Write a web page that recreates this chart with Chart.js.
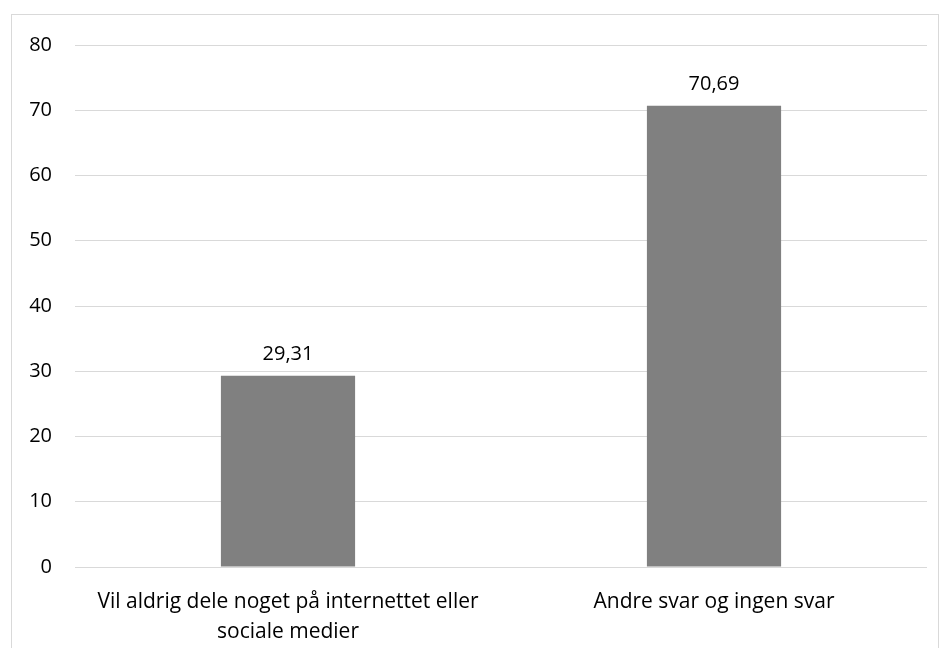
<!DOCTYPE html>
<html>
<head>
<meta charset="utf-8">
<script src="https://cdn.jsdelivr.net/npm/chart.js@4/dist/chart.umd.min.js"></script>
<style>
  body { margin: 0; background: #fff; overflow: hidden; }
  #box { position: absolute; left: 11px; top: 14px; width: 926px; height: 660px; border: 1px solid #d9d9d9; }
  #wrap { position: absolute; left: 0; top: -5px; width: 926px; height: 638px; }
</style>
</head>
<body>
<div id="box"><div id="wrap"><canvas id="chartBar"></canvas></div></div>
<script>
const categories = [
  ["Vil aldrig dele noget på internettet eller", "sociale medier"],
  "Andre svar og ingen svar"
];
const values = [29.31, 70.69];
const yTicks = [0, 10, 20, 30, 40, 50, 60, 70, 80];

Chart.defaults.font.family = "'Open Sans', sans-serif";
Chart.defaults.color = "#000";

// draw the value above each bar, Danish decimal comma
const barLabels = {
  id: "barLabels",
  afterDatasetsDraw(chart) {
    const ctx = chart.ctx;
    ctx.save();
    ctx.font = "20px 'Open Sans', sans-serif";
    ctx.fillStyle = "#000";
    ctx.textAlign = "center";
    ctx.textBaseline = "middle";
    chart.getDatasetMeta(0).data.forEach((bar, i) => {
      ctx.fillText(values[i].toFixed(2).replace(".", ","), bar.x, bar.y - 21);
    });
    ctx.restore();
  }
};

const ctx = document.getElementById("chartBar").getContext("2d");

new Chart(ctx, {
  type: "bar",
  data: {
    labels: categories,
    datasets: [
      {
        label: "Andel",
        data: values,
        backgroundColor: "#808080",
        categoryPercentage: 1,
        barPercentage: 0.315,
      },
    ],
  },
  options: {
    responsive: true,
    maintainAspectRatio: false,
    animation: false,
    layout: { padding: { top: 20, right: 11, left: 0, bottom: 0 } },
    plugins: { legend: { display: false }, tooltip: { enabled: false } },
    scales: {
      x: {
        grid: { display: false },
        border: { display: false },
        ticks: { font: { size: 21, lineHeight: 1.43 }, padding: 12, maxRotation: 0 },
        afterFit(scale) { scale.height = 81; },
      },
      y: {
        min: 0,
        max: 80,
        afterBuildTicks(scale) { scale.ticks = yTicks.map(v => ({ value: v })); },
        grid: { color: "#d9d9d9", drawTicks: false },
        border: { display: false },
        ticks: { font: { size: 20 }, padding: 23 },
        afterFit(scale) { scale.width = 63; },
      },
    },
  },
  plugins: [barLabels],
});
</script>
</body>
</html>
